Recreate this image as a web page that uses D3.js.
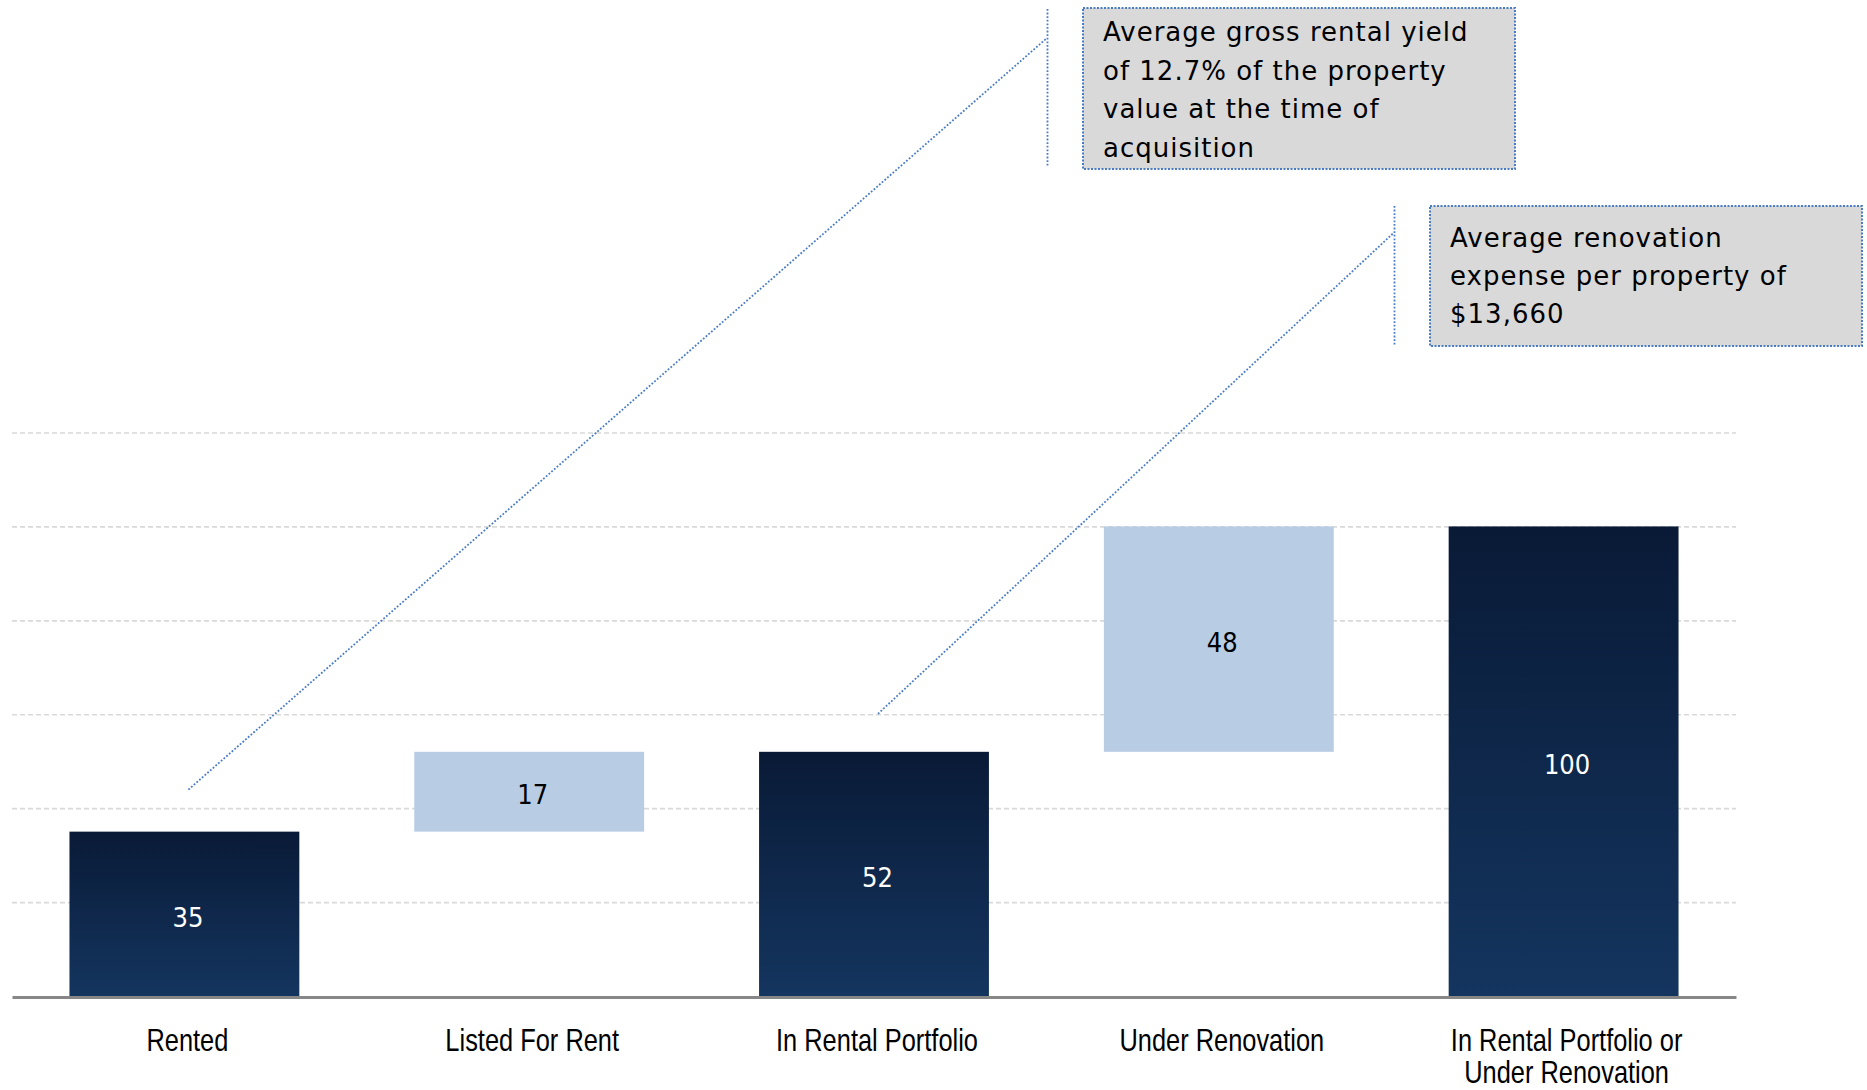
<!DOCTYPE html>
<html>
<head>
<meta charset="utf-8">
<script src="https://cdn.jsdelivr.net/npm/d3@7"></script>
<style>
  html, body { margin: 0; padding: 0; background: #ffffff; }
  svg { display: block; }
</style>
</head>
<body>
<svg id="chart" width="1867" height="1090"></svg>
<script>
// ---- data ----
const categories = ["Rented", "Listed For Rent", "In Rental Portfolio", "Under Renovation", "In Rental Portfolio or|Under Renovation"];
const values = [35, 17, 52, 48, 100];
const kinds = ["total", "delta", "total", "delta", "total"];
const gridTicks = [20, 40, 60, 80, 100, 120];
const callout1Lines = ["Average gross rental yield", "of 12.7% of the property", "value at the time of", "acquisition"];
const callout2Lines = ["Average renovation", "expense per property of", "$13,660"];

// ---- build waterfall segments ----
let running = 0;
const bars = categories.map((c, i) => {
  let start, end;
  if (kinds[i] === "total") { start = 0; end = values[i]; running = values[i]; }
  else { start = running; end = running + values[i]; running = end; }
  return { cat: c, value: values[i], kind: kinds[i], start, end };
});

const svg = d3.select("#chart");
const left = 12, right = 1736, baseY = 996, topY = 432.5;

const x = d3.scaleBand().domain(categories).range([left, right]).paddingInner(1/3).paddingOuter(1/6);
const y = d3.scaleLinear().domain([0, 120]).range([baseY, topY]);

// gradient for dark bars
const defs = svg.append("defs");
const grad = defs.append("linearGradient").attr("id", "darkGrad").attr("x1", 0).attr("y1", 0).attr("x2", 0).attr("y2", 1);
grad.append("stop").attr("offset", "0%").attr("stop-color", "#091a36");
grad.append("stop").attr("offset", "100%").attr("stop-color", "#14355f");

// gridlines
const grid = svg.append("g").attr("transform", `translate(${left},0)`)
  .call(d3.axisLeft(y).tickValues(gridTicks).tickSize(-(right - left)).tickFormat(""));
grid.select(".domain").remove();
grid.selectAll(".tick line").attr("stroke", "#d9d9d9").attr("stroke-width", 1.6).attr("stroke-dasharray", "5,3");

// bars
svg.append("g").selectAll("rect").data(bars).join("rect")
  .attr("x", d => x(d.cat))
  .attr("width", x.bandwidth())
  .attr("y", d => y(d.end))
  .attr("height", d => y(d.start) - y(d.end))
  .attr("fill", d => d.kind === "total" ? "url(#darkGrad)" : "#b8cce4");

// value labels
svg.append("g").selectAll("text").data(bars).join("text")
  .attr("x", d => x(d.cat) + x.bandwidth() / 2 + 3.5)
  .attr("y", d => (y(d.start) + y(d.end)) / 2)
  .attr("dy", "0.47em")
  .attr("text-anchor", "middle")
  .attr("font-family", "'DejaVu Sans Condensed', 'DejaVu Sans', sans-serif")
  .attr("font-size", 27)
  .attr("fill", d => d.kind === "total" ? "#ffffff" : "#000000")
  .text(d => d.value);

// x axis
const xAxis = svg.append("g").attr("transform", `translate(0,${baseY + 1})`)
  .call(d3.axisBottom(x).tickSize(0).tickSizeOuter(0).tickFormat(""));
xAxis.select(".domain").attr("stroke", "#878787").attr("stroke-width", 3);
xAxis.selectAll(".tick").each(function(d) {
  const t = d3.select(this).select("text")
    .attr("y", 0).attr("dy", null)
    .attr("transform", "translate(3,0) scale(0.82,1)")
    .attr("font-family", "'Liberation Sans', Arial, sans-serif")
    .attr("font-size", 31)
    .attr("fill", "#000000");
  d.split("|").forEach((line, k) => {
    t.append("tspan").attr("x", 0).attr("y", 54.5 + k * 31.5).text(line);
  });
});

// callouts
const dotted = "#4a7cc6";
function callout(box, lines, textX, firstBase, lineH) {
  svg.append("rect").attr("x", box.x).attr("y", box.y).attr("width", box.w).attr("height", box.h)
    .attr("fill", "#d9d9d9").attr("stroke", dotted).attr("stroke-width", 2).attr("stroke-dasharray", "2,1.5");
  const t = svg.append("text")
    .attr("font-family", "'DejaVu Sans', sans-serif")
    .attr("font-size", 26)
    .attr("letter-spacing", 1.0)
    .attr("fill", "#000000");
  lines.forEach((l, k) => t.append("tspan").attr("x", textX).attr("y", firstBase + k * lineH).text(l));
}
callout({ x: 1083, y: 8, w: 432, h: 161 }, callout1Lines, 1103, 41, 38.6);
callout({ x: 1430, y: 206, w: 432, h: 140 }, callout2Lines, 1450, 246.5, 38.4);

function connector(x1, y1, x2, y2, vx, vy1, vy2) {
  svg.append("line").attr("x1", x1).attr("y1", y1).attr("x2", x2).attr("y2", y2)
    .attr("stroke", dotted).attr("stroke-width", 1.8).attr("stroke-dasharray", "1.8,1.8");
  svg.append("line").attr("x1", vx).attr("y1", vy1).attr("x2", vx).attr("y2", vy2)
    .attr("stroke", dotted).attr("stroke-width", 1.8).attr("stroke-dasharray", "1.8,1.8");
}
const c0 = x(categories[0]) + x.bandwidth() / 2;
const c2 = x(categories[2]) + x.bandwidth() / 2;
connector(c0 + 4, y(bars[0].end) - 42, 1047, 38, 1047.5, 9, 167);
connector(c2 + 4, y(bars[2].end) - 38, 1393.5, 233, 1394.5, 206, 346);
</script>
</body>
</html>
